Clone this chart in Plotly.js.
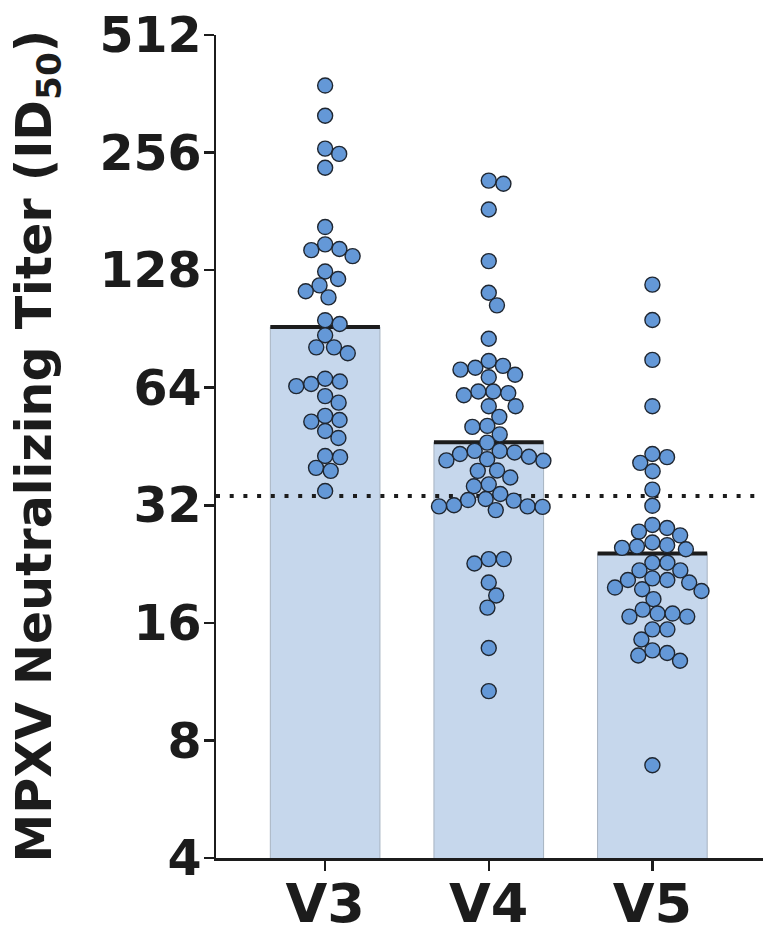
<!DOCTYPE html>
<html><head><meta charset="utf-8">
<script src="https://cdn.plot.ly/plotly-3.0.1.min.js"></script>
<style>html,body{margin:0;padding:0;background:#fff}#chart{width:763px;height:930px}</style>
</head><body><div id="chart"></div>
<script>
// ---- data ----
const categories = ['V3', 'V4', 'V5'];
const geoMeans = [91.6, 46.4, 24.1];
const lod = 33.8;
const v3 = [380, 318, 262, 254, 234, 165, 149, 145, 144, 139, 127, 121.5, 117, 113, 109, 95.3, 93.2, 87.2, 81.2, 81.2,
  78.4, 67.5, 66.4, 65.4, 64.6, 60.9, 58.6, 54.2, 52.9, 52.4, 49.6, 47.6, 42.8, 42.5, 39.9, 39.2, 34.8];
const v4 = [217, 213, 183, 135, 112, 104, 85.4, 74.9, 72.8, 72.0, 71.2, 69.1, 68.1, 62.6, 62.6, 62.0, 61.2, 57.4, 57.4,
  53.9, 50.8, 51.1, 48.6, 46.3, 44.1, 43.7, 44.1, 43.3, 42.6, 42.0, 41.7, 41.6, 39.3, 39.2, 37.7, 36.2, 35.8, 34.2,
  33.2, 33.0, 32.9, 32.0, 31.8, 31.8, 31.7, 31.1, 23.3, 23.3, 22.7, 20.3, 18.8, 17.5, 13.8, 10.7];
const v5 = [117.5, 95.4, 75.4, 57.4, 43.3, 42.5, 41.1, 39.1, 35.1, 31.9, 28.5, 28.0, 27.4, 26.8, 25.7, 25.3, 25.1, 24.9,
  24.7, 22.8, 22.8, 21.8, 21.8, 20.8, 20.6, 20.6, 20.3, 19.7, 19.5, 19.3, 18.4, 17.3, 16.9, 16.9, 16.6, 16.6, 15.4,
  15.4, 14.5, 13.6, 13.4, 13.2, 12.8, 6.91];
const yTickVals = [4, 8, 16, 32, 64, 128, 256, 512];
const yTickText = ['4', '8', '16', '32', '64', '128', '256', '512'];
const yTitle = 'MPXV Neutralizing Titer (ID<sub>50</sub>)';

// ---- layout constants ----
const W = 763, H = 930;
const M = {l: 216, r: 0, t: 35, b: 72};
const xr = [-0.667, 2.676];
const yr = [Math.log10(4), Math.log10(512)];
const barWidth = 0.67;
const plotW = W - M.l - M.r, plotH = H - M.t - M.b;
const pxPerX = plotW / (xr[1] - xr[0]);
const pxPerLog2 = plotH / (Math.log2(512) - Math.log2(4));
const markerD = 15;
const font = 'DejaVu Sans, Arial, sans-serif';

// deterministic beeswarm: returns horizontal offsets (category units)
function swarm(vals) {
  const D = 15;
  const pts = vals.map((v, i) => ({i, y: Math.log2(v) * pxPerLog2, x: 0}));
  const order = pts.slice().sort((a, b) => b.y - a.y);
  const placed = [];
  const xs = new Array(vals.length);
  for (const p of order) {
    const cands = [0];
    for (const q of placed) {
      const dy = Math.abs(q.y - p.y);
      if (dy < D) { const dx = Math.sqrt(D * D - dy * dy); cands.push(q.x + dx, q.x - dx); }
    }
    cands.sort((a, b) => Math.abs(a) - Math.abs(b));
    let best = 0;
    for (const c of cands) {
      if (placed.every(q => (q.x - c) ** 2 + (q.y - p.y) ** 2 >= D * D - 1e-6)) { best = c; break; }
    }
    p.x = best; placed.push(p); xs[p.i] = best / pxPerX;
  }
  return xs;
}

const groups = [v3, v4, v5];
const traces = [];
traces.push({
  type: 'bar', x: categories.map((c, i) => i), y: geoMeans, width: barWidth,
  marker: {color: '#c6d7ec', line: {color: '#a7b3c1', width: 1}},
  hoverinfo: 'skip', showlegend: false
});
groups.forEach((g, i) => {
  traces.push({
    type: 'scatter', mode: 'lines', x: [i - barWidth / 2, i + barWidth / 2], y: [geoMeans[i], geoMeans[i]],
    line: {color: '#1c1c1c', width: 4}, showlegend: false, hoverinfo: 'skip'
  });
});
traces.push({
  type: 'scatter', mode: 'lines', x: [xr[0], xr[1]], y: [lod, lod],
  line: {color: '#1c1c1c', width: 4, dash: '4px,9.7px'}, showlegend: false, hoverinfo: 'skip', cliponaxis: false
});
groups.forEach((g, i) => {
  const off = swarm(g);
  traces.push({
    type: 'scatter', mode: 'markers', x: g.map((v, k) => i + off[k]), y: g,
    marker: {size: markerD, color: '#6498d7', line: {color: '#1f2630', width: 1.4}},
    showlegend: false, cliponaxis: false
  });
});

const layout = {
  width: W, height: H, margin: M, paper_bgcolor: '#fff', plot_bgcolor: '#fff', showlegend: false,
  xaxis: {
    range: xr, tickvals: [0, 1, 2], ticktext: categories, showgrid: false, zeroline: false,
    showline: true, linecolor: '#1c1c1c', linewidth: 2.5, ticks: 'outside', ticklen: 10, tickwidth: 2.5,
    tickcolor: '#1c1c1c', ticklabelstandoff: -13,
    tickfont: {family: font, size: 54, weight: 'bold', color: '#1c1c1c'}
  },
  yaxis: {
    type: 'log', range: yr, tickvals: yTickVals, ticktext: yTickText, showgrid: false, zeroline: false,
    showline: true, linecolor: '#1c1c1c', linewidth: 2.5, ticks: 'outside', ticklen: 10, tickwidth: 2.5,
    tickcolor: '#1c1c1c', ticklabelstandoff: -8,
    tickfont: {family: font, size: 49, weight: 'bold', color: '#1c1c1c'}
  },
  annotations: [{
    text: yTitle, textangle: -90, xref: 'paper', yref: 'paper', x: (37 - M.l) / plotW, y: 0.5,
    xanchor: 'center', yanchor: 'middle', showarrow: false,
    font: {family: font, size: 49, weight: 'bold', color: '#1c1c1c'}
  }]
};
Plotly.newPlot('chart', traces, layout, {displayModeBar: false, staticPlot: true});
</script></body></html>
